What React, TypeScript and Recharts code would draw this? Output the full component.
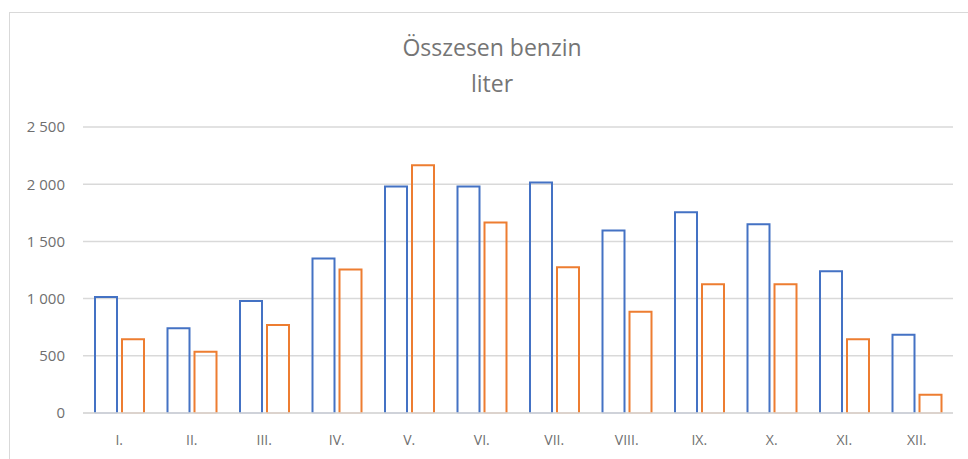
import { BarChart, Bar, XAxis, YAxis, CartesianGrid } from 'recharts';

// havi adatok
const honapok = ['I.', 'II.', 'III.', 'IV.', 'V.', 'VI.', 'VII.', 'VIII.', 'IX.', 'X.', 'XI.', 'XII.'];
const elsoSor = [1015, 740, 980, 1350, 1980, 1980, 2015, 1595, 1755, 1650, 1240, 685];
const masodikSor = [645, 535, 770, 1255, 2165, 1665, 1275, 885, 1125, 1125, 645, 160];
const yTicks = [0, 500, 1000, 1500, 2000, 2500];

const data = honapok.map((h, i) => ({ honap: h, elso: elsoSor[i], masodik: masodikSor[i] }));

const fmt = (v: number) => (v >= 1000 ? `${Math.floor(v / 1000)} ${String(v % 1000).padStart(3, '0')}` : String(v));

// outlined bar, bottom edge faded like the Excel export
function outlineShape(color: string) {
    return (props: any) => {
        const { x, y, width, height } = props;
        const bottom = y + height;
        return (
            <g>
                <path
                    d={`M${x},${bottom} V${y} H${x + width} V${bottom}`}
                    fill="none"
                    stroke={color}
                    strokeWidth={2}
                />
                <line x1={x} x2={x + width} y1={bottom} y2={bottom} stroke={color} strokeOpacity={0.3} strokeWidth={2} />
            </g>
        );
    };
}

const font = "'Open Sans', 'Noto Sans', sans-serif";

export default function App() {
    return (
        <div style={{ position: 'absolute', left: 0, top: 0, width: 968, height: 459, overflow: 'hidden', background: '#fff' }}>
            <div
                style={{
                    position: 'absolute',
                    left: 9,
                    top: 12,
                    width: 1100,
                    height: 600,
                    border: '1px solid #d9d9d9',
                }}
            />
            <div
                style={{
                    position: 'absolute',
                    left: 292,
                    width: 400,
                    top: 29,
                    textAlign: 'center',
                    fontFamily: font,
                    fontSize: 23,
                    lineHeight: '36px',
                    color: '#757575',
                }}
            >
                <div>Összesen benzin</div>
                <div>liter</div>
            </div>
            <div style={{ position: 'absolute', left: 0, top: 0 }}>
                <BarChart
                    width={968}
                    height={459}
                    data={data}
                    barSize={22}
                    barGap={5}
                    margin={{ top: 127, right: 15, left: 0, bottom: 0 }}
                >
                    <CartesianGrid vertical={false} stroke="#d9d9d9" strokeWidth={1.5} />
                    <XAxis
                        dataKey="honap"
                        height={46}
                        tickLine={false}
                        tickSize={0}
                        tickMargin={22}
                        axisLine={{ stroke: '#d9d9d9', strokeWidth: 1.5 }}
                        tick={{ fill: '#6f6f6f', fontSize: 14, fontFamily: font }}
                        interval={0}
                    />
                    <YAxis
                        width={83}
                        domain={[0, 2500]}
                        ticks={yTicks}
                        tickFormatter={fmt}
                        axisLine={false}
                        tickLine={false}
                        tickSize={0}
                        tickMargin={18}
                        tick={{ fill: '#6f6f6f', fontSize: 15, fontFamily: font }}
                    />
                    <Bar dataKey="elso" isAnimationActive={false} shape={outlineShape('#4472C4')} />
                    <Bar dataKey="masodik" isAnimationActive={false} shape={outlineShape('#ED7D31')} />
                </BarChart>
            </div>
        </div>
    );
}
